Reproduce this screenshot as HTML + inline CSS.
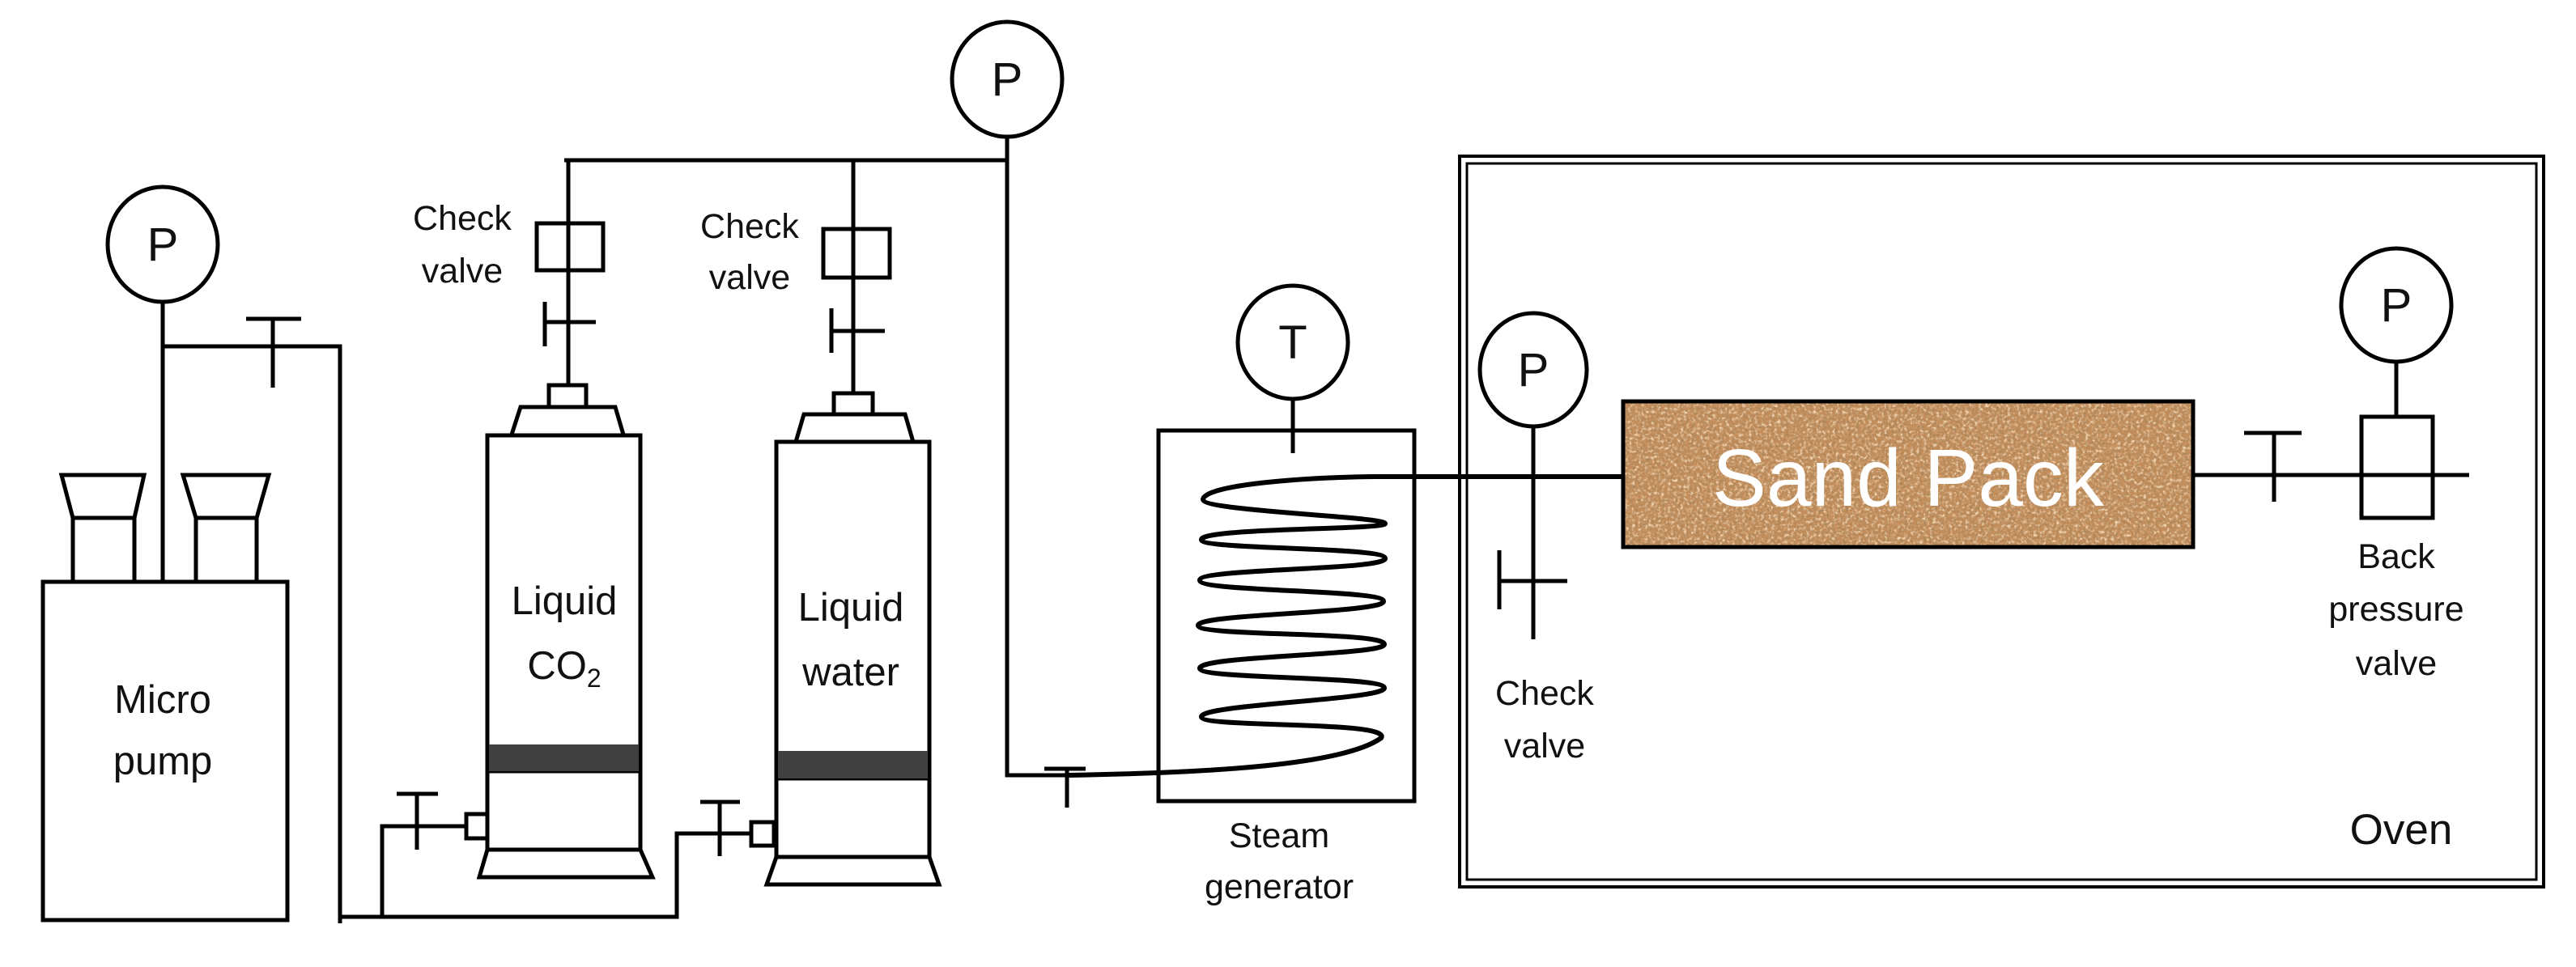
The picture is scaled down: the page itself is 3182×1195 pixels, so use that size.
<!DOCTYPE html>
<html><head><style>html,body{margin:0;padding:0;background:#fff}svg{display:block}</style></head>
<body>
<svg width="3182" height="1195" viewBox="0 0 3182 1195" xmlns="http://www.w3.org/2000/svg">
<defs>
<filter id="sand" x="0" y="0" width="100%" height="100%" filterUnits="objectBoundingBox">
<feTurbulence type="fractalNoise" baseFrequency="0.3" numOctaves="2" seed="3" result="n"/>
<feColorMatrix in="n" type="matrix" values="0 0 0 0 0.42  0 0 0 0 0.24  0 0 0 0 0.1  3 0 0 0 -1.3"/>
</filter>
<filter id="sand2" x="0" y="0" width="100%" height="100%" filterUnits="objectBoundingBox">
<feTurbulence type="fractalNoise" baseFrequency="0.25" numOctaves="2" seed="9" result="n"/>
<feColorMatrix in="n" type="matrix" values="0 0 0 0 0.93  0 0 0 0 0.72  0 0 0 0 0.5  0 3 0 0 -1.4"/>
</filter>
</defs>
<rect x="2005" y="496" width="704" height="180" fill="#c48e5c"/>
<rect x="2005" y="496" width="704" height="180" fill="#000" filter="url(#sand2)"/>
<rect x="2005" y="496" width="704" height="180" fill="#000" filter="url(#sand)"/>
<g fill="none" stroke="#000" stroke-width="5">
<!-- micro pump -->
<rect x="53" y="719" width="302" height="418"/>
<path d="M76 587 H178 L166 640 H90 Z"/><rect x="90" y="640" width="76" height="79"/>
<path d="M226 587 H332 L317 640 H242 Z"/><rect x="242" y="640" width="75" height="79"/>
<ellipse cx="201" cy="302" rx="68" ry="71"/>
<path d="M201 373 V719"/>
<path d="M201 428 H420 V1141"/>
<path d="M304 394 H372 M337 394 V479"/>
<path d="M420 1133 H836 V1030 H928"/>
<path d="M472 1133 V1021 H576"/>
<path d="M490 981 H541 M515 981 V1050"/>
<path d="M865 991 H914 M889 991 V1058"/>
<rect x="576" y="1006" width="26" height="30"/>
<rect x="928" y="1016" width="28" height="29"/>
<!-- CO2 cylinder -->
<rect x="602" y="538" width="189" height="512"/>
<path d="M602 953 H791"/>
<path d="M602 1050 H791 L806 1084 H592 Z"/>
<path d="M632 537 L643 503 H760 L770 537"/>
<rect x="678" y="476" width="46" height="27"/>
<path d="M702 476 V198"/>
<rect x="663" y="276" width="82" height="58"/>
<path d="M673 373 V428 M673 398 H736"/>
<!-- water cylinder -->
<rect x="959" y="546" width="189" height="513"/>
<path d="M959 962 H1148"/>
<path d="M959 1059 H1148 L1160 1093 H947 Z"/>
<path d="M983 546 L993 512 H1118 L1128 546"/>
<rect x="1030" y="486" width="48" height="26"/>
<path d="M1054 486 V198"/>
<rect x="1017" y="283" width="82" height="60"/>
<path d="M1027 381 V436 M1027 409 H1093"/>
<!-- top line -->
<path d="M697 198 H1244"/>
<ellipse cx="1244" cy="98" rx="68" ry="71"/>
<path d="M1244 169 V958 H1330"/>
<path d="M1290 950 H1341 M1318 950 V998"/>
<!-- steam generator -->
<rect x="1431" y="532" width="316" height="458"/>
<ellipse cx="1597" cy="423" rx="68" ry="70"/>
<path d="M1597 493 V560"/>
<path stroke-width="6" d="M1320 958 C1500 955 1660 945 1706 912 C1720 890 1486 900 1484 886 C1482 870 1712 865 1710 850 C1708 835 1484 840 1482 826 C1480 810 1712 810 1710 796 C1708 780 1482 787 1480 773 C1478 758 1710 758 1709 743 C1708 728 1482 732 1482 717 C1482 702 1712 705 1711 690 C1710 675 1486 680 1484 667 C1482 652 1712 655 1711 647 C1710 638 1486 632 1486 617 C1488 600 1600 590 1700 589 H2005"/>
<!-- oven -->
<rect x="1803" y="193" width="1339" height="903" stroke-width="4"/>
<rect x="1812" y="202" width="1321" height="885" stroke-width="3"/>
<ellipse cx="1894" cy="457" rx="66" ry="70"/>
<path d="M1894 527 V790"/>
<path d="M1852 680 V753 M1852 718 H1936"/>
<rect x="2005" y="496" width="704" height="180"/>
<path d="M2709 587 H3050"/>
<path d="M2772 535 H2843 M2809 535 V620"/>
<rect x="2917" y="515" width="88" height="125" fill="#fff"/>
<path d="M2917 587 H3050"/>
<ellipse cx="2960" cy="377" rx="68" ry="70"/>
<path d="M2960 447 V515"/>
</g>
<g font-family="Liberation Sans, sans-serif" fill="#111" text-anchor="middle">
<text x="201" y="322" font-size="58">P</text>
<text x="1244" y="118" font-size="58">P</text>
<text x="1894" y="477" font-size="58">P</text>
<text x="2960" y="397" font-size="58">P</text>
<text x="1597" y="443" font-size="58">T</text>
<g font-size="43">
<text x="571" y="284">Check</text><text x="571" y="349">valve</text>
<text x="926" y="294">Check</text><text x="926" y="357">valve</text>
<text x="1908" y="871">Check</text><text x="1908" y="936">valve</text>
<text x="1580" y="1047">Steam</text><text x="1580" y="1110">generator</text>
<text x="2960" y="702">Back</text><text x="2960" y="767">pressure</text><text x="2960" y="834">valve</text>
</g>
<g font-size="49">
<text x="201" y="881">Micro</text><text x="201" y="957">pump</text>
<text x="697" y="759">Liquid</text><text x="697" y="839">CO<tspan font-size="32" dy="10">2</tspan></text>
<text x="1051" y="767">Liquid</text><text x="1051" y="847">water</text>
</g>
<text x="2966" y="1043" font-size="53">Oven</text>
<text x="2357" y="625" font-size="100" fill="#fff">Sand Pack</text>
</g>
<rect x="604" y="920" width="185" height="33" fill="#404040"/>
<rect x="961" y="928" width="185" height="34" fill="#404040"/>
</svg>
</body></html>
